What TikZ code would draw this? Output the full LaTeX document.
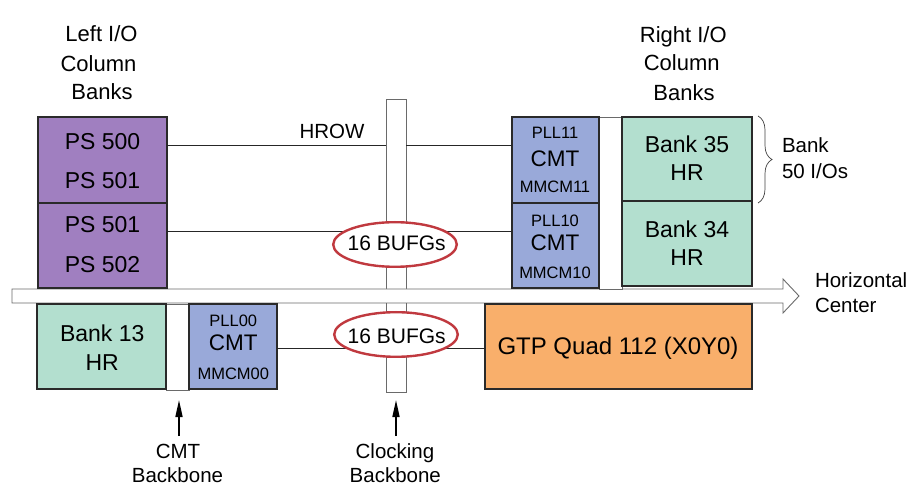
\documentclass[tikz,border=0pt]{standalone}
\usepackage{fontspec}
\setmainfont{Liberation Sans}
\usetikzlibrary{arrows.meta,decorations.pathreplacing,shapes.geometric}
\definecolor{pspurple}{HTML}{A07FC0}
\definecolor{bankgreen}{HTML}{B3DFCF}
\definecolor{cmtblue}{HTML}{99A9D9}
\definecolor{gtporange}{HTML}{F9AF6B}
\definecolor{bufgred}{HTML}{C0393F}
\definecolor{edgedark}{HTML}{2A2A2A}
\definecolor{thingray}{HTML}{6A6A6A}
\newcommand\myfs[1]{\fontsize{#1}{#1}\selectfont}
\begin{document}
\begin{tikzpicture}[x=1pt,y=-1pt,
  blk/.style={draw=edgedark, line width=2.2pt, inner sep=0pt, outer sep=0pt},
  psbox/.style={blk, fill=pspurple},
  bankbox/.style={blk, fill=bankgreen},
  cmtbox/.style={blk, fill=cmtblue},
  gtpbox/.style={blk, fill=gtporange},
  gapbox/.style={draw=thingray, line width=0.8pt, fill=white, inner sep=0pt, outer sep=0pt},
  wire/.style={draw=black!85, line width=0.9pt},
  bufg/.style={ellipse, draw=bufgred, line width=2.4pt, fill=white, inner sep=0pt,
    minimum width=123.6pt, minimum height=44.6pt},
  txt/.style={anchor=base, inner sep=0pt, outer sep=0pt},
  bigtxt/.style={txt, font=\myfs{23}},
  cmttxt/.style={txt, font=\myfs{22.5}},
  smalltxt/.style={txt, font=\myfs{16.5}},
  lbltxt/.style={txt, font=\myfs{20.5}},
  uparrow/.style={line width=1.6pt, -{Triangle[length=17pt,width=7pt]}}
]
\useasboundingbox (0,0) rectangle (916,486);

% clocking backbone bar
\node[gapbox, minimum width=20pt, minimum height=293pt] (clkbb) at (396,245.5) {};

% horizontal center arrow
\draw[draw=thingray, line width=0.9pt, fill=white]
  (12,289) -- (783,289) -- (783,279) -- (799,296) -- (783,313) -- (783,303) -- (12,303) -- cycle;

% backbone gaps
\node[gapbox, minimum width=23pt, minimum height=172pt] (rgap) at (610.5,203) {};
\node[gapbox, minimum width=23pt, minimum height=86pt] (cmtbb) at (177.5,347) {};

% boxes
\node[psbox, minimum width=129pt, minimum height=86pt] (ps1) at (102.5,160) {};
\node[psbox, minimum width=129pt, minimum height=85pt] (ps2) at (102.5,245.5) {};
\node[cmtbox, minimum width=87pt, minimum height=86pt] (cmt11) at (555.5,160) {};
\node[cmtbox, minimum width=87pt, minimum height=85pt] (cmt10) at (555.5,245.5) {};
\node[bankbox, minimum width=130pt, minimum height=84pt] (bank35) at (687,159) {};
\node[bankbox, minimum width=130pt, minimum height=85pt] (bank34) at (687,243.5) {};
\node[bankbox, minimum width=129pt, minimum height=85pt] (bank13) at (101.5,346.5) {};
\node[cmtbox, minimum width=88pt, minimum height=85pt] (cmt00) at (233,346.5) {};
\node[gtpbox, minimum width=267pt, minimum height=85pt] (gtp) at (618.5,346.5) {};

% wires
\draw[wire] (ps1.east |- 0,145) -- (clkbb.west |- 0,145);
\draw[wire] (clkbb.east |- 0,145) -- (cmt11.west |- 0,145);
\draw[wire] (ps2.east |- 0,231) -- (cmt10.west |- 0,231);
\draw[wire] (cmt00.east |- 0,348) -- (gtp.west |- 0,348);

% BUFG ellipses
\node[bufg] (bufg1) at (395,244.5) {};
\node[bufg] (bufg0) at (396,334.5) {};
\node[txt, font=\myfs{21}] (bufg1t) at (396.7,251) {16 BUFGs};
\node[txt, font=\myfs{21}] (bufg0t) at (396.7,343.3) {16 BUFGs};

% box texts
\node[bigtxt] (t500) at (102.5,150) {PS 500};
\node[bigtxt] (t501a) at (102.5,189) {PS 501};
\node[bigtxt] (t501b) at (102.5,233) {PS 501};
\node[bigtxt] (t502) at (102.5,273) {PS 502};

\node[smalltxt] (tpll11) at (555,139) {PLL11};
\node[cmttxt] (tcmt11) at (555,166.5) {CMT};
\node[smalltxt] (tmm11) at (555,192.5) {MMCM11};
\node[smalltxt] (tpll10) at (555,226.5) {PLL10};
\node[cmttxt] (tcmt10) at (555,251) {CMT};
\node[smalltxt] (tmm10) at (555,279) {MMCM10};

\node[bigtxt] (tb35) at (687,153) {Bank 35};
\node[bigtxt] (thr35) at (687,181) {HR};
\node[bigtxt] (tb34) at (687,237.5) {Bank 34};
\node[bigtxt] (thr34) at (687,265.5) {HR};

\node[bigtxt] (tb13) at (102.2,342) {Bank 13};
\node[bigtxt] (thr13) at (102.2,370.5) {HR};

\node[smalltxt] (tpll00) at (233.3,326.5) {PLL00};
\node[cmttxt] (tcmt00) at (233.3,351) {CMT};
\node[smalltxt] (tmm00) at (233.3,380) {MMCM00};

\node[txt, font=\myfs{24}] (tgtp) at (618,355) {GTP Quad 112 (X0Y0)};

% column labels
\node[txt, font=\myfs{22}] (l1) at (101.5,42) {Left I/O};
\node[txt, font=\myfs{22}] (l2) at (98.5,72) {Column};
\node[txt, font=\myfs{22}] (l3) at (102,100) {Banks};
\node[txt, font=\myfs{22}] (r1) at (683.3,42.3) {Right I/O};
\node[txt, font=\myfs{22}] (r2) at (681.7,71) {Column};
\node[txt, font=\myfs{22}] (r3) at (684,100.5) {Banks};

\node[lbltxt] (hrow) at (332,139) {HROW};

% brace and bank label
\coordinate (brA) at (758,116);
\coordinate (brB) at (758,203);
\draw[line width=0.7pt, draw=black!75, decorate, decoration={brace, amplitude=14pt}] (brA) -- (brB);
\node[txt, anchor=base west, font=\myfs{20.5}] (bk1) at (782,153) {Bank};
\node[txt, anchor=base west, font=\myfs{20.5}] (bk2) at (782,179) {50 I/Os};

% horizontal center label
\node[lbltxt, anchor=base west] (hc1) at (815,288) {Horizontal};
\node[lbltxt, anchor=base west] (hc2) at (815,313) {Center};

% backbone labels and arrows
\node[lbltxt] (cb1) at (178,458) {CMT};
\node[lbltxt] (cb2) at (177.5,482) {Backbone};
\node[lbltxt] (kb1) at (395,458) {Clocking};
\node[lbltxt] (kb2) at (395.3,482) {Backbone};
\coordinate (cbtail) at (179,436);
\coordinate (cbhead) at (179,400);
\coordinate (kbtail) at (396,436);
\coordinate (kbhead) at (396,400);
\draw[uparrow] (cbtail) -- (cbhead);
\draw[uparrow] (kbtail) -- (kbhead);
\end{tikzpicture}
\end{document}
